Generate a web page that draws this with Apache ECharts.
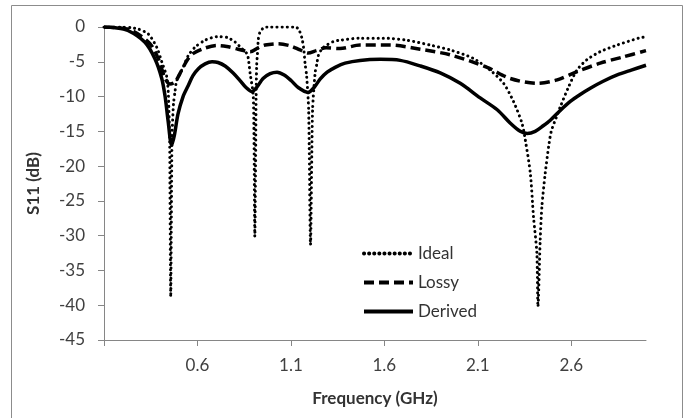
<!DOCTYPE html>
<html>
<head>
<meta charset="utf-8">
<script src="https://cdn.jsdelivr.net/npm/echarts@6/dist/echarts.min.js"></script>
<style>
  html, body { margin: 0; padding: 0; background: #fff; }
  #chart { width: 688px; height: 418px; }
</style>
</head>
<body>
<div id="chart"></div>
<script>
// values (frequency in GHz, S11 in dB)
const idealFreq = [0.1, 0.186, 0.245, 0.284, 0.337, 0.382, 0.409, 0.436, 0.444, 0.451, 0.457, 0.464, 0.472, 0.48, 0.489,
  0.525, 0.551, 0.587, 0.641, 0.703, 0.758, 0.801, 0.837, 0.864, 0.872, 0.882, 0.899, 0.907, 0.914, 0.917, 0.922, 0.926,
  0.935, 0.951, 0.971, 1.122, 1.141, 1.158, 1.168, 1.176, 1.184, 1.195, 1.205, 1.216, 1.23, 1.239, 1.247, 1.267, 1.292,
  1.326, 1.363, 1.47, 1.594, 1.722, 1.845, 1.952, 2.075, 2.166, 2.238, 2.291, 2.336, 2.354, 2.381, 2.398, 2.416, 2.422,
  2.434, 2.443, 2.461, 2.479, 2.493, 2.52, 2.541, 2.586, 2.63, 2.684, 2.755, 2.845, 2.961, 3.0];
const idealS11 = [0, 0, -0.1, -0.3, -1.0, -2.9, -5.0, -7.2, -9.5, -16, -38.8, -16, -11, -9.3, -7.7,
  -5.7, -4.1, -2.9, -1.9, -1.4, -1.5, -2.15, -3.1, -3.8, -4.5, -6.7, -10, -30.1, -10, -5.5, -3.5, -1.7,
  -0.7, -0.2, 0, 0, -0.3, -1.5, -3, -5.3, -7, -12, -31.3, -12, -6.5, -5.3, -4.1, -3.1, -2.6,
  -2.1, -1.9, -1.6, -1.6, -1.9, -2.6, -3.3, -4.5, -6.2, -8.1, -10.7, -13.8, -16.2, -21, -27.3, -32.5, -40.2,
  -30.6, -25.8, -21, -17.2, -15, -13, -11.5, -8.6, -6.2, -4.7, -3.55, -2.6, -1.6, -1.4];

const lossyFreq = [0.1, 0.159, 0.248, 0.346, 0.391, 0.427, 0.453, 0.48, 0.516, 0.544, 0.578, 0.632, 0.703, 0.757,
  0.817, 0.882, 0.924, 0.962, 1.031, 1.096, 1.149, 1.192, 1.235, 1.288, 1.363, 1.47, 1.631, 1.792, 1.952, 2.15,
  2.273, 2.418, 2.525, 2.632, 2.755, 2.878, 3.0];
const lossyS11 = [0, -0.1, -0.5, -2.4, -4.6, -7.4, -8.2, -7.9, -6.2, -4.8, -3.8, -3.1, -2.65, -2.8,
  -3.2, -3.55, -3.0, -2.6, -2.4, -2.7, -3.3, -3.75, -3.4, -3.0, -3.1, -2.6, -2.6, -3.2, -4.0, -5.8,
  -7.4, -8.1, -7.6, -6.4, -5.2, -4.3, -3.4];

const derivedFreq = [0.1, 0.159, 0.228, 0.319, 0.373, 0.409, 0.427, 0.443, 0.462, 0.477, 0.496, 0.523, 0.551, 0.576,
  0.605, 0.641, 0.678, 0.71, 0.748, 0.791, 0.828, 0.86, 0.891, 0.919, 0.951, 0.989, 1.026, 1.064, 1.101, 1.139,
  1.192, 1.224, 1.256, 1.294, 1.337, 1.39, 1.47, 1.578, 1.685, 1.792, 1.899, 2.006, 2.113, 2.204, 2.273, 2.327,
  2.364, 2.407, 2.45, 2.488, 2.541, 2.595, 2.648, 2.702, 2.771, 2.846, 2.921, 3.0];
const derivedS11 = [0, -0.1, -0.5, -2.2, -4.6, -7.4, -10, -13.5, -17, -15.5, -12.5, -10, -8.4, -7,
  -6.0, -5.3, -5.0, -5.1, -5.6, -6.6, -7.7, -8.7, -9.3, -8.6, -7.4, -6.7, -6.5, -6.9, -7.7, -8.7,
  -9.4, -8.7, -7.5, -6.5, -5.8, -5.2, -4.8, -4.65, -4.8, -5.6, -6.6, -8.1, -10.2, -11.9, -13.8, -15,
  -15.3, -15, -14.2, -13.4, -12, -10.7, -9.7, -8.8, -7.8, -6.9, -6.2, -5.5];

const xTicks = [0.1, 0.6, 1.1, 1.6, 2.1, 2.6];
const xLabels = [0.6, 1.1, 1.6, 2.1, 2.6];

const pairs = (fs, vs) => fs.map((f, i) => [f, vs[i]]);
const font = "Lato, 'Open Sans', sans-serif";

const chart = echarts.init(document.getElementById("chart"));
chart.setOption({
  animation: false,
  textStyle: { fontFamily: font },
  graphic: [{
    type: "rect",
    shape: { x: 11.5, y: 5.5, width: 671, height: 430 },
    style: { fill: "none", stroke: "#8c8c8c", lineWidth: 1 },
    silent: true
  }],
  grid: { left: 104, right: 42, top: 27, bottom: 78 },
  legend: {
    orient: "vertical",
    left: 357,
    top: 240,
    itemWidth: 49,
    itemHeight: 16,
    itemGap: 12,
    itemStyle: { opacity: 0 },
    lineStyle: { width: 4 },
    textStyle: { fontSize: 17, color: "#333", fontFamily: font },
    data: ["Ideal", "Lossy", "Derived"]
  },
  xAxis: {
    type: "value",
    min: 0.1,
    max: 3.0,
    name: "Frequency (GHz)",
    nameLocation: "middle",
    nameGap: 50,
    nameTextStyle: { fontSize: 17, fontWeight: "bold", color: "#333" },
    axisLine: { onZero: false, lineStyle: { color: "#868686" } },
    axisTick: { show: true, length: 6, customValues: xTicks, lineStyle: { color: "#868686" } },
    axisLabel: { customValues: xLabels, margin: 17, fontSize: 17, color: "#404040" },
    splitLine: { show: false }
  },
  yAxis: {
    type: "value",
    min: -45,
    max: 0,
    interval: 5,
    name: "S11 (dB)",
    nameLocation: "middle",
    nameGap: 62,
    nameTextStyle: { fontSize: 17, fontWeight: "bold", color: "#333" },
    axisLine: { show: true, lineStyle: { color: "#868686" } },
    axisTick: { show: true, length: 6, lineStyle: { color: "#868686" } },
    axisLabel: { margin: 19, fontSize: 17, color: "#404040" },
    splitLine: { show: false }
  },
  series: [
    {
      name: "Ideal",
      type: "line",
      data: pairs(idealFreq, idealS11),
      smooth: 0.25,
      symbol: "none",
      lineStyle: { color: "#000", width: 3, type: [0.1, 5], cap: "round" }
    },
    {
      name: "Lossy",
      type: "line",
      data: pairs(lossyFreq, lossyS11),
      smooth: 0.3,
      symbol: "none",
      lineStyle: { color: "#000", width: 3.5, type: [10, 5] }
    },
    {
      name: "Derived",
      type: "line",
      data: pairs(derivedFreq, derivedS11),
      smooth: 0.3,
      symbol: "none",
      lineStyle: { color: "#000", width: 3.5 }
    }
  ]
});
window.addEventListener("resize", function() {
  chart.resize();
});
</script>
</body>
</html>
